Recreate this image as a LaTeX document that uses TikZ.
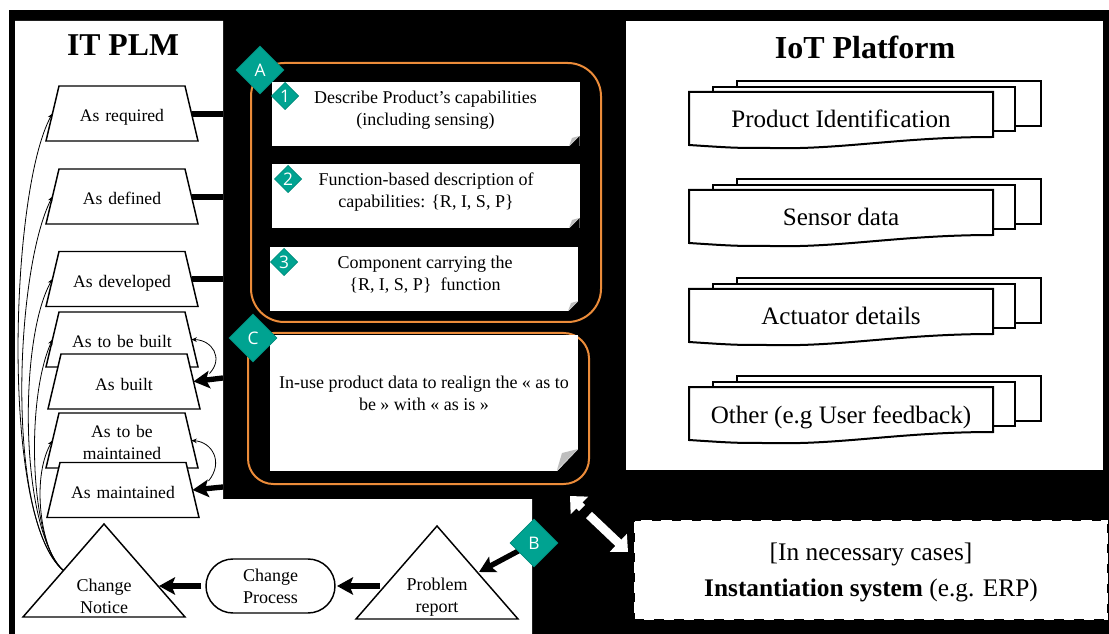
\documentclass[tikz,border=0pt]{standalone}
\usepackage{fontspec}
\setmainfont{Liberation Serif}
\newfontfamily\diafont{Open Sans}
\usetikzlibrary{shapes.geometric,shapes.misc,arrows.meta}
\definecolor{teal}{RGB}{0,163,145}
\definecolor{orangeb}{RGB}{236,140,58}
\definecolor{foldgray}{RGB}{190,190,190}
\tikzset{
 x=0.75pt,y=-0.75pt,
 trap/.style={trapezium,trapezium left angle=76.7,trapezium right angle=76.7,draw=black,fill=white,line width=1.1pt,text width=94.5pt,text height=27pt,text depth=14.25pt,inner sep=0pt,outer sep=0pt,align=center,font=\fontsize{13.2}{16.5}\selectfont},
 tri/.style={isosceles triangle,isosceles triangle stretches,shape border rotate=90,draw=black,fill=white,line width=1.1pt,inner sep=0pt,outer sep=0pt,minimum width=121.5pt,minimum height=69.75pt,anchor=apex},
 body/.style={align=center,inner sep=0pt,font=\fontsize{13.5}{16.5}\selectfont},
 note/.style={fill=white,inner sep=0pt,outer sep=0pt,minimum width=231pt,anchor=north west},
 bigd/.style={diamond,aspect=1,fill=teal,draw=teal!85!black,line width=.5pt,inner sep=0pt,minimum width=36pt,minimum height=36pt,text=white,font=\diafont\fontsize{13}{13}\selectfont},
 smalld/.style={bigd,minimum width=20.5pt,minimum height=20.5pt},
 orangebox/.style={draw=orangeb,line width=1.5pt},
 heavy/.style={line width=4pt,-{Stealth[length=12pt,width=13pt,inset=2.5pt]}},
 heavyplain/.style={line width=4pt},
 thinarrow/.style={line width=.6pt,-{Stealth[length=4pt,width=3.5pt]}},
 whitearrow/.style={line width=6.5pt,draw=white,-{Triangle[length=10pt,width=18pt,fill=white]}},
 docs/.style={draw=black,fill=white,line width=1.5pt,line join=miter},
 doctext/.style={inner sep=0pt,font=\fontsize{18.8}{22}\selectfont},
 foldg/.style={fill=foldgray,draw=none},
}
\newcommand{\docstack}[4]{%
 \begin{scope}[shift={(0,#1)}]
  \draw[docs] (737,81) -- (1041,81) -- (1041,126) -- (737,126) -- cycle;
  \draw[docs] (713,87) -- (1015,87) -- (1015,131) -- (713,131) -- cycle;
  \draw[docs] (689,92) -- (993,92) -- (993,137) .. controls (900,137) and (840,150) .. (770,148) .. controls (735,148) .. (689,145) -- cycle;
  \node[doctext] (#2) at (#3) {#4};
 \end{scope}}
\begin{document}
\begin{tikzpicture}
\useasboundingbox (0,0) rectangle (1109,634);
\fill[white] (0,0) rectangle (1109,634);
\fill[black] (9,10) rectangle (1109,634);
% white panels
\fill[white] (15,21) -- (223,21) -- (223,499) -- (532,499) -- (532,634) -- (15,634) -- cycle;
\fill[white] (626,21) rectangle (1103,470);
\node[font=\bfseries\fontsize{23.8}{28}\selectfont,inner sep=0pt] (itplm) at (123,45) {IT PLM};
\node[font=\bfseries\fontsize{24}{28}\selectfont,inner sep=0pt] (iot) at (865,47) {IoT Platform};
% IoT documents
\docstack{0}{d1}{841,119}{Product Identification}
\docstack{98}{d2}{841,119}{Sensor data}
\docstack{197}{d3}{841,119}{Actuator details}
\docstack{295}{d4}{841,122}{Other (e.g User feedback)}
% trapezoids
\node[trap] (req) at (122,113.5) {As required};
\node[trap] (def) at (122,196.5) {As defined};
\node[trap] (dev) at (122,279) {As developed};
\node[trap] (tbb) at (122,339.5) {As to be built};
\node[trap] (blt) at (124,381.5) {As built};
\node[trap,text height=18pt,text depth=23.25pt] (tbm) at (122,440.5) {As to be\\maintained};
\node[trap] (mnt) at (123,490) {As maintained};
% triangles and process
\node[tri] (cn) at (104,524) {};
\node[body] (cnt) at (104,596) {Change\\Notice};
\node[tri] (pr) at (437,526) {};
\node[body] (prt) at (437,597) {Problem\\report};
\node[rounded rectangle,draw=black,fill=white,line width=1.1pt,minimum width=96.75pt,minimum height=40.5pt,inner sep=0pt,body] (cp) at (270.5,586) {Change\\Process};
% orange boxes and notes
\draw[orangebox,rounded corners=25pt] (251,63) rectangle (601,322);
\draw[orangebox,rounded corners=19pt] (248,333) rectangle (589,484);
\node[note,minimum height=48pt] (n1) at (272,82) {};
\node[note,minimum height=48pt] (n2) at (272,164) {};
\node[note,minimum height=48pt] (n3) at (270,247) {};
\node[note,minimum height=102pt] (n4) at (270,335) {};
\node[body] at (425.5,110) {Describe Product’s capabilities\\(including sensing)};
\node[body] at (426,192) {Function-based description of\\capabilities: \{R, I, S, P\}};
\node[body] at (425,275) {Component carrying the\\\{R, I, S, P\}\ \ function};
\node[body] at (424,393) {In-use product data to realign the « as to\\be » with « as is »};
% note folds
\foreach \ox/\oy in {0/0,0/82,-1/165}{
 \begin{scope}[shift={(\ox,\oy)}]
  \fill[black] (569,146.5) -- (579.5,136) -- (579.5,146.5) -- cycle;
  \fill[foldg] (569,146) -- (572,138) -- (579,136) -- cycle;
 \end{scope}}
\fill[black] (557,471.5) -- (578.5,449) -- (578.5,471.5) -- cycle;
\fill[foldg] (557,470) -- (562,453) -- (578,449) -- cycle;
% heavy connectors
\coordinate (rq) at (223,114);
\coordinate (df) at (223,197);
\coordinate (dv) at (223,279);
\coordinate (bs) at (223,378);
\coordinate (ms) at (223,487);
\draw[heavyplain] (req.east |- rq) -- (rq);
\draw[heavyplain] (def.east |- df) -- (df);
\draw[heavyplain] (dev.east |- dv) -- (dv);
\draw[heavy] (bs) -- (blt.east);
\draw[heavy] (ms) -- (mnt.east);
\coordinate (t1) at (159,586);
\coordinate (t2) at (337,586);
\coordinate (t3) at (479,572);
\coordinate (s2) at (380,586);
\coordinate (bc) at (522,549);
\draw[heavy,shorten <=3pt] (cp.west) -- (t1);
\draw[heavy] (s2) -- (t2);
\draw[heavy] (bc) -- (t3);
% thin curved arrows
\draw[thinarrow] (cn.left side) .. controls (0,520) and (10,190) .. (req.west);
\draw[thinarrow] (cn.left side) .. controls (5,520) and (15,270) .. (def.west);
\draw[thinarrow] (cn.left side) .. controls (20,530) and (18,340) .. (dev.west);
\draw[thinarrow] (cn.left side) .. controls (30,545) and (25,400) .. (tbb.west);
\draw[thinarrow] (cn.left side) .. controls (42,555) and (30,480) .. (tbm.west);
\draw[thinarrow] ([shift={(16,-8)}]blt.east) .. controls (224,358) and (212,340) .. (tbb.east);
\draw[thinarrow] ([shift={(16,-9)}]mnt.east) .. controls (224,462) and (212,442) .. (tbm.east);
% white double arrow
\coordinate (wa) at (570,496);
\coordinate (wb) at (582,508);
\coordinate (wc) at (589,515);
\coordinate (wd) at (628,552);
\draw[whitearrow] (wb) -- (wa);
\draw[whitearrow] (wc) -- (wd);
% instantiation
\node[fill=white,draw=black,line width=1.5pt,dash pattern=on 7pt off 8pt,minimum width=355pt,minimum height=75pt,inner sep=0pt,align=center,font=\fontsize{19}{27}\selectfont] (ins) at (871,569.5) {\rule{0pt}{17pt}[In necessary cases]\\\textbf{Instantiation system} (e.g. ERP)};
% diamonds
\node[bigd] (B) at (534,543) {B};
\node[bigd] (A) at (260,70) {A};
\node[bigd] (C) at (253,338) {C};
\node[smalld] (k1) at (285,96) {1};
\node[smalld] (k2) at (288,179) {2};
\node[smalld] (k3) at (284,262) {3};
\end{tikzpicture}
\end{document}
